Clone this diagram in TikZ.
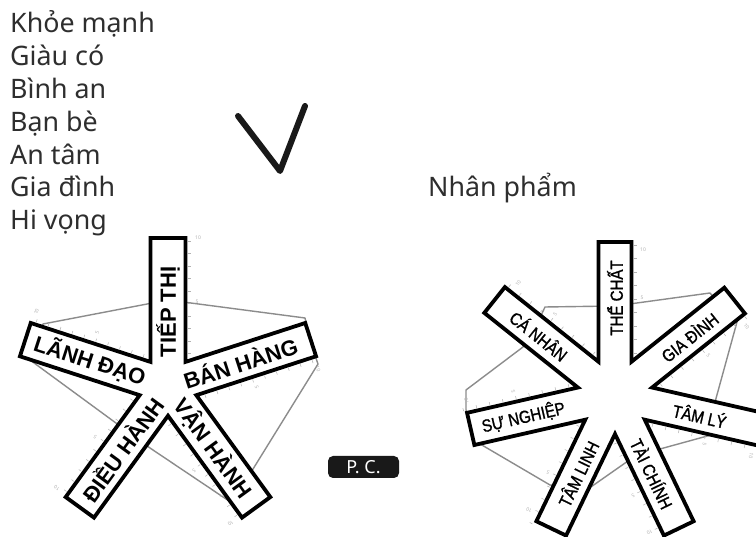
\documentclass[tikz,border=0pt]{standalone}
\usepackage{fontspec}
\setmainfont{Noto Sans}
\newfontfamily\labfont{Liberation Sans}
\newfontfamily\condfont[FakeStretch=0.86,FakeBold=1.2]{Liberation Sans}
\usetikzlibrary{calc}
\begin{document}
\begin{tikzpicture}[x=1pt,y=1pt,
  star/.style={draw=black, line width=3.8pt, fill=white, line join=miter, miter limit=10},
  radar/.style={draw=gray!90, line width=1.4pt, line join=round},
  tickmark/.style={draw=gray!60, line width=0.5pt},
  ticknum/.style={text=gray!60, font=\fontsize{5}{5}\selectfont, inner sep=0pt},
  lablarge/.style={font={\labfont\bfseries\fontsize{22}{26}\selectfont}, inner sep=0pt},
  labsmall/.style={font={\condfont\fontsize{17.5}{20}\selectfont}, inner sep=0pt},
  listtext/.style={font={\fontsize{26.8}{30}\selectfont}, anchor=base west, inner sep=0pt, text=black!82},
  checkline/.style={line width=6pt, line cap=round, line join=round, draw=black!90},
  pcbox/.style={fill=black!90, text=white, rounded corners=5pt, minimum width=71pt, minimum height=22pt, inner sep=0pt, font={\fontsize{18}{20}\selectfont}}
]
\fill[white] (0,0) rectangle (756,537);
\useasboundingbox (0,0) rectangle (756,537);

% list of words
\node[listtext] (l1) at (10,504) {Khỏe mạnh};
\node[listtext] (l2) at (10,471.2) {Giàu có};
\node[listtext] (l3) at (10,438.4) {Bình an};
\node[listtext] (l4) at (10,405.6) {Bạn bè};
\node[listtext] (l5) at (10,372.8) {An tâm};
\node[listtext] (l6) at (10,340) {Gia đình};
\node[listtext] (l7) at (10,307.2) {Hi vọng};
\node[listtext] (np) at (428,340) {Nhân phẩm};

% check mark
\coordinate (ck1) at (238,421);
\coordinate (ck2) at (280,366);
\coordinate (ck3) at (305,431);
\draw[checkline] (ck1) -- (ck2) -- (ck3);

% P. C. label
\node[pcbox] (pc) at (363.5,70) {P. C.};

% star centres
\coordinate (LC) at (168,151);
\coordinate (RC) at (615,141);

% radar polygons (behind the stars)
\draw[radar] (168,237) -- (305,219) -- (310,196) -- (318,173) -- (232,34) -- (150,89)
  -- (30,177) -- (32,195) -- (43,213) -- cycle;
\draw[radar] (466,147) -- (523,190) -- (538,215) -- (545,230) -- (615,231) -- (710,244)
  -- (724,228) -- (737,215) -- (712,124) -- (711,102) -- (660,88) -- (628,76)
  -- (588,48) -- (550,52) -- (475,96) -- (472,112) -- (466,127) -- cycle;

% axis ticks, left
\foreach \a/\n in {90/a,18/b,-54/c,-126/d,162/e}{
  \foreach \k in {0,...,9}{
    \draw[tickmark] ($(LC)+(\a:{145-\k*12.5})+(\a-90:20)$) -- ($(LC)+(\a:{145-\k*12.5})+(\a-90:23)$);
  }
  \node[ticknum, rotate=\a-90] (L10\n) at ($(LC)+(\a:148)+(\a-90:30)$) {10};
  \node[ticknum, rotate=\a-90] (L5\n) at ($(LC)+(\a:84)+(\a-90:29)$) {5};
}
% axis ticks, right
\foreach \a/\n/\rt in {90/a/146,38.571/b/146,-12.857/c/146,-64.286/d/138,-115.714/e/140,-167.143/f/146,141.429/g/146}{
  \foreach \k in {0,...,8}{
    \draw[tickmark] ($(RC)+(\a:{151-\k*13.5})+(\a-90:19)$) -- ($(RC)+(\a:{151-\k*13.5})+(\a-90:22)$);
  }
  \node[ticknum, rotate=\a-90] (R10\n) at ($(RC)+(\a:\rt)+(\a-90:28)$) {10};
  \node[ticknum, rotate=\a-90] (R5\n) at ($(RC)+(\a:98)+(\a-90:27)$) {5};
}

% left star
\draw[star] ($(LC)+(126:29.77)$)
  \foreach \a/\L in {90/148,18/150,-54/150,-126/150}{
    -- ($(LC)+(\a:\L)+(\a+90:17.5)$) -- ($(LC)+(\a:\L)+(\a-90:17.5)$) -- ($(LC)+(\a-36:29.77)$)
  }
  -- ($(LC)+(162:150)+(252:17.5)$) -- ($(LC)+(162:150)+(72:17.5)$) -- cycle;

% right star
\draw[star] ($(RC)+(115.714:38.03)$)
  \foreach \a/\L in {90/154,38.571/153,-12.857/160,-64.286/147,-115.714/147,-167.143/148}{
    -- ($(RC)+(\a:\L)+(\a+90:16.5)$) -- ($(RC)+(\a:\L)+(\a-90:16.5)$) -- ($(RC)+(\a-25.714:38.03)$)
  }
  -- ($(RC)+(141.429:154)+(231.429:16.5)$) -- ($(RC)+(141.429:154)+(51.429:16.5)$) -- cycle;

% left labels
\node[lablarge, rotate=90] (tiep) at ($(LC)+(90:74)$) {TIẾP THỊ};
\node[lablarge, rotate=18] (banhang) at ($(LC)+(18:76)$) {BÁN HÀNG};
\node[lablarge, rotate=-54] (vanhanh) at ($(LC)+(-54:77)$) {VẬN HÀNH};
\node[lablarge, rotate=54] (dieuhanh) at ($(LC)+(-126:78)$) {ĐIỀU HÀNH};
\node[lablarge, rotate=-18] (lanhdao) at ($(LC)+(162:82)$) {LÃNH ĐẠO};

% right labels
\node[labsmall, rotate=90] (thechat) at ($(RC)+(90:98)$) {THỂ CHẤT};
\node[labsmall, rotate=38.571] (giadinh) at ($(RC)+(38.571:95)$) {GIA ĐÌNH};
\node[labsmall, rotate=-12.857] (tamly) at ($(RC)+(-12.857:87)$) {TÂM LÝ};
\node[labsmall, rotate=-64.286] (taichinh) at ($(RC)+(-64.286:86)$) {TÀI CHÍNH};
\node[labsmall, rotate=64.286] (tamlinh) at ($(RC)+(-115.714:86)$) {TÂM LINH};
\node[labsmall, rotate=12.857] (sunghiep) at ($(RC)+(-167.143:94)$) {SỰ NGHIỆP};
\node[labsmall, rotate=-38.571] (canhan) at ($(RC)+(141.429:97)$) {CÁ NHÂN};
\end{tikzpicture}
\end{document}
